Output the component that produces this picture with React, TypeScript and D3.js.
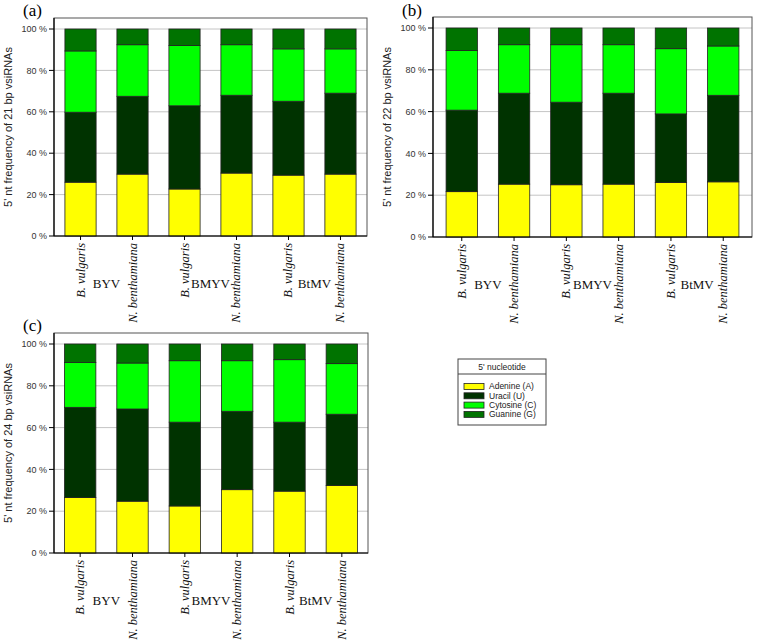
import { scaleBand, scaleLinear, stack } from 'd3'

// host plants, repeated for each virus
const hosts = ['B. vulgaris', 'N. benthamiana', 'B. vulgaris', 'N. benthamiana', 'B. vulgaris', 'N. benthamiana']
const viruses = ['BYV', 'BMYV', 'BtMV']
const nucleotides = ['Adenine (A)', 'Uracil (U)', 'Cytosine (C)', 'Guanine (G)']
const keys = ['A', 'U', 'C', 'G']
const colors = ['#ffff00', '#003300', '#00ff00', '#007300']
const yTicks = [0, 20, 40, 60, 80, 100]

// 5' nucleotide share (%) per library, one array per nucleotide
const adenine21 = [26.0, 29.9, 22.7, 30.4, 29.4, 29.9]
const uracil21 = [33.8, 37.6, 40.2, 37.6, 35.7, 39.1]
const cytosine21 = [29.6, 24.9, 29.1, 24.4, 25.3, 21.4]
const guanine21 = [10.6, 7.6, 8.0, 7.6, 9.6, 9.6]

const adenine22 = [21.7, 25.3, 25.0, 25.3, 26.1, 26.4]
const uracil22 = [39.0, 43.5, 39.5, 43.5, 32.8, 41.4]
const cytosine22 = [28.5, 23.2, 27.5, 23.2, 31.2, 23.6]
const guanine22 = [10.8, 8.0, 8.0, 8.0, 9.9, 8.6]

const adenine24 = [26.6, 24.8, 22.5, 30.3, 29.6, 32.3]
const uracil24 = [43.1, 44.1, 40.1, 37.5, 33.0, 34.1]
const cytosine24 = [21.4, 22.0, 29.4, 24.2, 29.9, 24.2]
const guanine24 = [8.9, 9.1, 8.0, 8.0, 7.5, 9.4]

const buildRows = (a: number[], u: number[], c: number[], g: number[]) =>
  hosts.map((h, i) => ({ A: a[i], U: u[i], C: c[i], G: g[i] }))

const sans = 'Arial, "Liberation Sans", sans-serif'
const serif = '"Times New Roman", "Liberation Serif", serif'

type PanelProps = {
  tag: string
  size: string
  rows: { [k: string]: number }[]
  left: number
  right: number
  y0: number
  y100: number
  outer: number
}

const Panel = ({ tag, size, rows, left, right, y0, y100, outer }: PanelProps) => {
  const x = scaleBand<number>().domain(hosts.map((d, i) => i)).range([left, right]).paddingInner(0.4).paddingOuter(outer)
  const y = scaleLinear().domain([0, 100]).range([y0, y100])
  const top = y100 - 11
  const series = stack<any>().keys(keys)(rows)
  const bw = x.bandwidth()

  return (
    <g>
      <text x={left - 31} y={Math.max(top - 2, 16)} fontFamily={serif} fontSize={17}>{tag}</text>
      {yTicks.filter(t => t > 0).map(t => (
        <line key={t} x1={left} x2={right} y1={y(t)} y2={y(t)} stroke="#c4c4c4" strokeWidth={1} />
      ))}
      <rect x={left} y={top} width={right - left} height={y0 - top} fill="none" stroke="#555" strokeWidth={1} />
      {series.map((s, si) =>
        s.map((d, i) => (
          <rect key={`${si}-${i}`} x={x(i)} y={y(d[1])} width={bw} height={y(d[0]) - y(d[1])}
            fill={colors[si]} stroke="#222" strokeWidth={0.8} />
        ))
      )}
      <line x1={left} x2={left} y1={top} y2={y0} stroke="#000" strokeWidth={1.2} />
      <line x1={left} x2={right} y1={y0} y2={y0} stroke="#000" strokeWidth={1.2} />
      {yTicks.map(t => (
        <g key={t}>
          <line x1={left - 5} x2={left} y1={y(t)} y2={y(t)} stroke="#000" />
          <text x={left - 7} y={y(t)} dy="0.35em" textAnchor="end" fontFamily={sans} fontSize={9} fill="#333">{`${t} %`}</text>
        </g>
      ))}
      <text transform={`translate(${left - 42},${(top + y0) / 2}) rotate(-90)`} textAnchor="middle"
        fontFamily={sans} fontSize={11} fill="#222">{`5' nt frequency of ${size} bp vsiRNAs`}</text>
      {hosts.map((h, i) => {
        const cx = (x(i) as number) + bw / 2
        return (
          <g key={i}>
            <line x1={cx} x2={cx} y1={y0} y2={y0 + 4} stroke="#000" />
            <text transform={`translate(${cx + 4},${y0 + 7}) rotate(-90)`} textAnchor="end"
              fontFamily={serif} fontStyle="italic" fontSize={12.5} fill="#111">{h}</text>
          </g>
        )
      })}
      {viruses.map((v, k) => {
        const mx = ((x(2 * k) as number) + (x(2 * k + 1) as number) + bw) / 2
        return (
          <text key={v} x={mx} y={y0 + 52} textAnchor="middle" fontFamily={serif} fontSize={13} fill="#111">{v}</text>
        )
      })}
    </g>
  )
}

const Legend = ({ x, y }: { x: number; y: number }) => (
  <g>
    <rect x={x} y={y} width={88} height={66} fill="#fff" stroke="#444" strokeWidth={1} />
    <line x1={x} x2={x + 88} y1={y + 15} y2={y + 15} stroke="#444" />
    <text x={x + 44} y={y + 10.5} textAnchor="middle" fontFamily={sans} fontSize={8.5} fill="#222">5' nucleotide</text>
    {nucleotides.map((n, i) => (
      <g key={n}>
        <rect x={x + 6} y={y + 24.5 + i * 9.3} width={20} height={6} fill={colors[i]} stroke="#222" strokeWidth={0.8} />
        <text x={x + 31} y={y + 27.5 + i * 9.3} dy="0.35em" fontFamily={sans} fontSize={8.5} fill="#222">{n}</text>
      </g>
    ))}
  </g>
)

const App = () => (
  <svg width={768} height={644} style={{ position: 'absolute', left: 0, top: 0, background: '#fff' }}>
    <Panel tag="(a)" size="21" rows={buildRows(adenine21, uracil21, cytosine21, guanine21)}
      left={54} right={367} y0={236} y100={29} outer={0.21} />
    <Panel tag="(b)" size="22" rows={buildRows(adenine22, uracil22, cytosine22, guanine22)}
      left={433} right={752} y0={237} y100={28} outer={0.25} />
    <Panel tag="(c)" size="24" rows={buildRows(adenine24, uracil24, cytosine24, guanine24)}
      left={54} right={368} y0={553} y100={344} outer={0.2} />
    <Legend x={458} y={359} />
  </svg>
)

export default App
